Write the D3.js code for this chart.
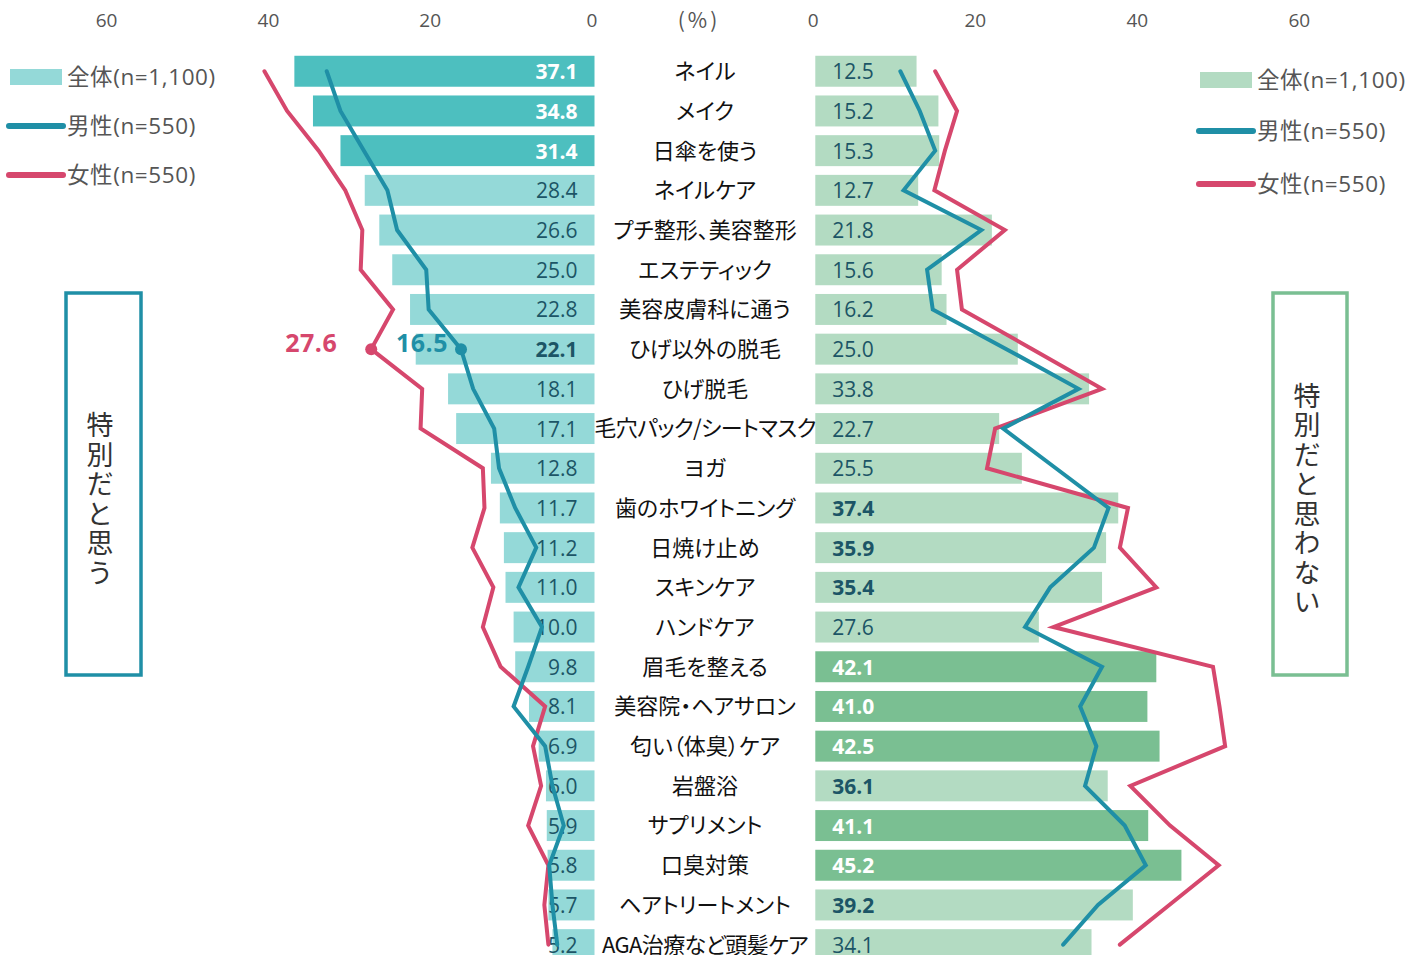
<!DOCTYPE html>
<html>
<head>
<meta charset="utf-8">
<script src="https://cdn.jsdelivr.net/npm/d3@7"></script>
<style>
  body { margin: 0; background: #fff; }
  text { font-family: "Open Sans", "Noto Sans CJK JP", sans-serif; }
  .jp { font-family: "Noto Sans CJK JP", sans-serif; font-feature-settings: "palt"; }
  .vert { font-family: "Noto Sans CJK JP", sans-serif; writing-mode: vertical-rl; }
</style>
</head>
<body>
<div id="chart-area"></div>
<script>
// categories, top to bottom
const categories = ["ネイル", "メイク", "日傘を使う", "ネイルケア", "プチ整形、美容整形", "エステティック",
  "美容皮膚科に通う", "ひげ以外の脱毛", "ひげ脱毛", "毛穴パック/シートマスク", "ヨガ", "歯のホワイトニング",
  "日焼け止め", "スキンケア", "ハンドケア", "眉毛を整える", "美容院・ヘアサロン", "匂い（体臭）ケア",
  "岩盤浴", "サプリメント", "口臭対策", "ヘアトリートメント", "AGA治療など頭髪ケア"]

// 特別だと思う
const yesTotal = [37.1, 34.8, 31.4, 28.4, 26.6, 25.0, 22.8, 22.1, 18.1, 17.1, 12.8, 11.7, 11.2, 11.0, 10.0, 9.8, 8.1, 6.9, 6.0, 5.9, 5.8, 5.7, 5.2]
const yesMale = [33.1, 31.4, 28.5, 25.6, 24.4, 20.8, 20.5, 16.5, 15.0, 12.4, 11.8, 9.8, 7.2, 9.4, 6.5, 8.2, 10.0, 6.1, 5.2, 3.8, 5.6, 5.2, 4.6]
const yesFemale = [40.8, 38.0, 34.1, 30.8, 28.7, 28.9, 24.9, 27.6, 21.3, 21.5, 13.8, 13.6, 15.1, 12.5, 13.8, 11.6, 6.1, 7.6, 6.6, 8.2, 5.7, 6.2, 5.7]
// 2 = highlighted bar, 1 = bold label, 0 = plain
const yesMark = [2, 2, 2, 0, 0, 0, 0, 1, 0, 0, 0, 0, 0, 0, 0, 0, 0, 0, 0, 0, 0, 0, 0]

// 特別だと思わない
const noTotal = [12.5, 15.2, 15.3, 12.7, 21.8, 15.6, 16.2, 25.0, 33.8, 22.7, 25.5, 37.4, 35.9, 35.4, 27.6, 42.1, 41.0, 42.5, 36.1, 41.1, 45.2, 39.2, 34.1]
const noMale = [10.5, 12.9, 14.8, 10.9, 20.5, 13.8, 14.5, 23.6, 32.5, 23.2, 29.7, 36.2, 34.4, 29.0, 25.9, 35.4, 32.7, 34.7, 33.3, 38.2, 40.8, 34.9, 30.6]
const noFemale = [14.8, 17.5, 16.0, 14.7, 23.4, 17.5, 18.1, 26.8, 35.4, 22.2, 21.2, 38.6, 37.6, 42.1, 29.4, 49.1, 49.9, 50.6, 38.9, 43.8, 49.8, 43.7, 37.6]
const noMark = [0, 0, 0, 0, 0, 0, 0, 0, 0, 0, 0, 1, 1, 1, 0, 2, 2, 2, 1, 2, 2, 1, 0]

const ticks = [0, 20, 40, 60]
const legendLabels = ["全体(n=1,100)", "男性(n=550)", "女性(n=550)"]
const sideTitles = ["特別だと思う", "特別だと思わない"]
const unitLabel = "(%)"
// labelled points on the left side
const callouts = [{ row: 7, series: "female", value: 27.6 }, { row: 7, series: "male", value: 16.5 }]

const COLORS = {
  yesHigh: "#4dbfbf", yesLow: "#94d9d8",
  noHigh: "#7abf92", noLow: "#b3dbc2",
  male: "#1f8fa6", female: "#d6476d",
  labelDark: "#1c5566", axis: "#555"
}

const WIDTH = 1423, HEIGHT = 955

const svg = d3.select("#chart-area").append("svg")
  .attr("width", WIDTH)
  .attr("height", HEIGHT)

const rows = categories.map((c, i) => ({
  i, cat: c,
  yes: yesTotal[i], yesM: yesMale[i], yesF: yesFemale[i], yesMark: yesMark[i],
  no: noTotal[i], noM: noMale[i], noF: noFemale[i], noMark: noMark[i]
}))

const y = d3.scaleBand()
  .domain(d3.range(categories.length))
  .range([51.4, 51.4 + 39.7 * categories.length])
  .paddingInner(0.22)
  .paddingOuter(0.11)
const yc = i => y(i) + y.bandwidth() / 2

const xL = d3.scaleLinear().domain([0, 60]).range([594.5, 594.5 - 60 * 8.09])
const xR = d3.scaleLinear().domain([0, 60]).range([815.3, 815.3 + 60 * 8.1])

// top axes
function drawAxis(scale, shift) {
  const g = svg.append("g")
    .attr("transform", `translate(${shift}, 27)`)
    .call(d3.axisTop(scale).tickValues(ticks).tickSize(0).tickPadding(0))
  g.select(".domain").remove()
  g.selectAll("text")
    .attr("fill", COLORS.axis)
    .attr("font-size", "19px")
    .style("font-family", "'Open Sans', sans-serif")
}
drawAxis(xL, -3)
drawAxis(xR, -2.5)

svg.append("text")
  .attr("class", "jp")
  .attr("x", 699)
  .attr("y", 20)
  .attr("dy", "0.36em")
  .attr("text-anchor", "middle")
  .attr("font-size", "21px")
  .attr("letter-spacing", "3px")
  .attr("fill", COLORS.axis)
  .text(unitLabel)

// left bars
svg.selectAll("rect.yes")
  .data(rows)
  .enter().append("rect")
  .attr("class", "yes")
  .attr("x", d => xL(d.yes))
  .attr("y", d => y(d.i))
  .attr("width", d => xL(0) - xL(d.yes))
  .attr("height", y.bandwidth())
  .attr("fill", d => d.yesMark === 2 ? COLORS.yesHigh : COLORS.yesLow)

// right bars
svg.selectAll("rect.no")
  .data(rows)
  .enter().append("rect")
  .attr("class", "no")
  .attr("x", xR(0))
  .attr("y", d => y(d.i))
  .attr("width", d => xR(d.no) - xR(0))
  .attr("height", y.bandwidth())
  .attr("fill", d => d.noMark === 2 ? COLORS.noHigh : COLORS.noLow)

// value labels
svg.selectAll("text.yesVal")
  .data(rows)
  .enter().append("text")
  .attr("class", "yesVal")
  .attr("x", xL(0) - 17)
  .attr("y", d => yc(d.i))
  .attr("dy", "0.38em")
  .attr("text-anchor", "end")
  .attr("font-size", "21px")
  .attr("font-weight", d => d.yesMark > 0 ? "bold" : "normal")
  .attr("fill", d => d.yesMark === 2 ? "#fff" : COLORS.labelDark)
  .text(d => d.yes.toFixed(1))

svg.selectAll("text.noVal")
  .data(rows)
  .enter().append("text")
  .attr("class", "noVal")
  .attr("x", xR(0) + 17)
  .attr("y", d => yc(d.i))
  .attr("dy", "0.38em")
  .attr("font-size", "21px")
  .attr("font-weight", d => d.noMark > 0 ? "bold" : "normal")
  .attr("fill", d => d.noMark === 2 ? "#fff" : COLORS.labelDark)
  .text(d => d.no.toFixed(1))

// category names (long ones squeezed a little so they fit between the bars)
svg.selectAll("text.cat")
  .data(rows)
  .enter().append("text")
  .attr("class", "cat jp")
  .attr("x", 705)
  .attr("y", d => yc(d.i))
  .attr("dy", "0.36em")
  .attr("text-anchor", "middle")
  .attr("font-size", "22px")
  .attr("letter-spacing", d => d.cat.length > 10 ? "-0.6px" : null)
  .attr("fill", "#111")
  .text(d => d.cat)

// male / female lines
const lineL = key => d3.line().x(d => xL(d[key])).y(d => yc(d.i))
const lineR = key => d3.line().x(d => xR(d[key])).y(d => yc(d.i))

const lines = [
  { gen: lineL("yesF"), color: COLORS.female },
  { gen: lineL("yesM"), color: COLORS.male },
  { gen: lineR("noF"), color: COLORS.female },
  { gen: lineR("noM"), color: COLORS.male }
]
lines.forEach(l => {
  svg.append("path")
    .datum(rows)
    .attr("d", l.gen)
    .attr("fill", "none")
    .attr("stroke", l.color)
    .attr("stroke-width", 4)
    .attr("stroke-linejoin", "miter")
    .attr("stroke-linecap", "round")
})

// callouts
callouts.forEach(c => {
  const female = c.series === "female"
  const color = female ? COLORS.female : COLORS.male
  svg.append("circle")
    .attr("cx", xL(c.value))
    .attr("cy", yc(c.row))
    .attr("r", 6)
    .attr("fill", color)
  svg.append("text")
    .attr("x", xL(c.value) - (female ? 34 : 13))
    .attr("y", yc(c.row) - 6)
    .attr("dy", "0.36em")
    .attr("text-anchor", "end")
    .attr("font-size", "25px")
    .attr("font-weight", "bold")
    .attr("letter-spacing", "0.5px")
    .attr("fill", color)
    .text(c.value.toFixed(1))
})

// legends
function drawLegend(x0, y0s, swatchColor) {
  const g = svg.append("g")
  g.append("rect")
    .attr("x", x0 + 2).attr("y", y0s[0] - 8)
    .attr("width", 52).attr("height", 16)
    .attr("fill", swatchColor)
  g.append("line")
    .attr("x1", x0 + 1).attr("x2", x0 + 55)
    .attr("y1", y0s[1]).attr("y2", y0s[1])
    .attr("stroke", COLORS.male).attr("stroke-width", 6).attr("stroke-linecap", "round")
  g.append("line")
    .attr("x1", x0 + 1).attr("x2", x0 + 55)
    .attr("y1", y0s[2]).attr("y2", y0s[2])
    .attr("stroke", COLORS.female).attr("stroke-width", 6).attr("stroke-linecap", "round")
  legendLabels.forEach((t, k) => {
    g.append("text")
      .attr("x", x0 + 59)
      .attr("y", y0s[k])
      .attr("dy", "0.36em")
      .attr("font-size", "22.5px")
      .attr("letter-spacing", "0.6px")
      .attr("fill", COLORS.axis)
      .text(t)
  })
}
drawLegend(8, [77, 126, 175], COLORS.yesLow)
drawLegend(1198, [80, 131, 184], COLORS.noLow)

// side boxes with vertical titles
function drawSideBox(x, w, top, bottom, color, title, tx) {
  svg.append("rect")
    .attr("x", x).attr("y", top)
    .attr("width", w).attr("height", bottom - top)
    .attr("fill", "none")
    .attr("stroke", color)
    .attr("stroke-width", 3.5)
  svg.append("text")
    .attr("class", "vert")
    .attr("x", tx)
    .attr("y", 500)
    .attr("text-anchor", "middle")
    .attr("font-size", "27px")
    .attr("letter-spacing", "2.5px")
    .attr("fill", "#333")
    .text(title)
}
drawSideBox(66, 75, 293, 675, COLORS.male, sideTitles[0], 100)
drawSideBox(1273, 74, 293, 675, COLORS.noHigh, sideTitles[1], 1307)
</script>
</body>
</html>
